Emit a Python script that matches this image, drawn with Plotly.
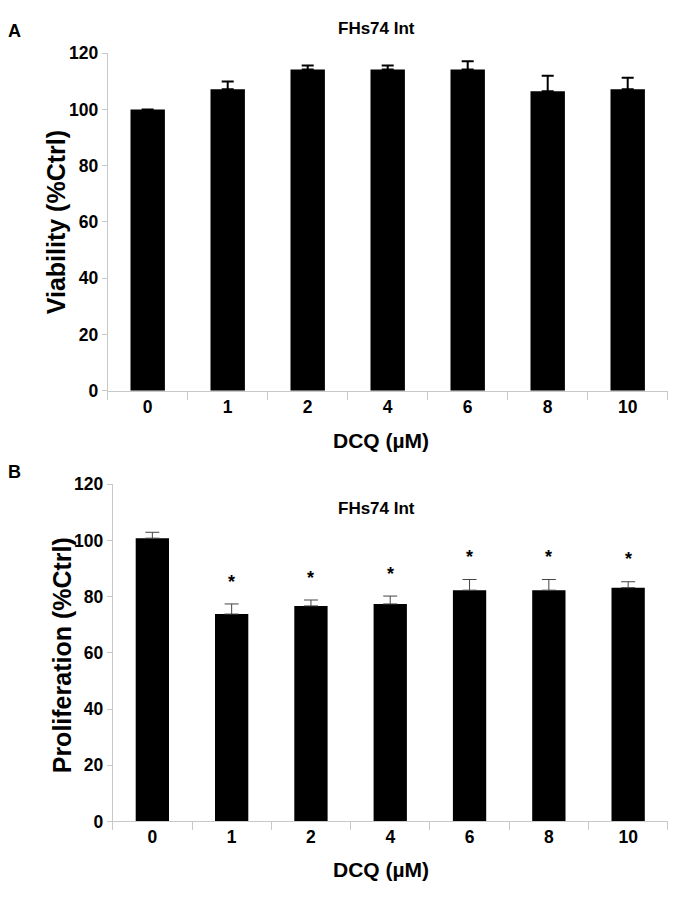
import plotly.graph_objects as go

# ---- data ----
doses = ["0", "1", "2", "4", "6", "8", "10"]
viability = [100.0, 107.2, 114.2, 114.2, 114.2, 106.5, 107.2]
viability_err = [0.0, 2.7, 1.4, 1.4, 2.9, 5.5, 4.1]
proliferation = [100.8, 73.8, 76.7, 77.4, 82.3, 82.3, 83.2]
proliferation_err = [2.1, 3.6, 2.1, 2.8, 3.8, 3.8, 2.1]
significant = [False, True, True, True, True, True, True]
y_ticks = [0, 20, 40, 60, 80, 100, 120]
panel_title = "FHs74 Int"
x_title = "DCQ (µM)"

# page has an 8px body margin; figure fills the rest of the 685x902 window
OFF = 8
W, H = 685 - 2 * OFF, 902 - 2 * OFF
FONT = "Liberation Sans, Arial, sans-serif"
AX = "#c8c8c8"


def px(x):
    return (x - OFF) / W


def py(y):
    return 1 - (y - OFF) / H


fig = go.Figure()
fig.add_trace(go.Bar(
    x=doses, y=viability, width=0.43, marker=dict(color="black", line=dict(width=0)),
    error_y=dict(type="data", symmetric=False, array=viability_err,
                 arrayminus=[0] * len(doses), color="black", thickness=2, width=6),
    xaxis="x", yaxis="y", showlegend=False))
fig.add_trace(go.Bar(
    x=doses, y=proliferation, width=0.42, marker=dict(color="black", line=dict(width=0)),
    error_y=dict(type="data", symmetric=False, array=proliferation_err,
                 arrayminus=[0] * len(doses), color="#444444", thickness=1, width=7),
    xaxis="x2", yaxis="y2", showlegend=False))

xcommon = dict(type="category", categoryorder="array", categoryarray=doses,
               range=[-0.5, len(doses) - 0.5],
               tickson="boundaries", ticks="outside", ticklen=8,
               tickcolor=AX, tickwidth=1, showline=True, linecolor=AX, linewidth=1,
               showgrid=False, zeroline=False,
               tickfont=dict(family=FONT, size=17.5, color="black", weight="bold"))
ycommon = dict(range=[0, 120], tickvals=y_ticks, ticks="outside", ticklen=5,
               tickcolor=AX, tickwidth=1, showline=True, linecolor=AX, linewidth=1,
               showgrid=False, zeroline=False,
               tickfont=dict(family=FONT, size=17.5, color="black", weight="bold"))

fig.update_layout(
    width=W, height=H, margin=dict(l=0, r=0, t=0, b=0),
    paper_bgcolor="white", plot_bgcolor="white",
    xaxis=dict(domain=[px(107.7), px(667.7)], anchor="y", **xcommon),
    yaxis=dict(domain=[py(389.3), py(44)], anchor="x", **ycommon),
    xaxis2=dict(domain=[px(112.7), px(667.8)], anchor="y2", **xcommon),
    yaxis2=dict(domain=[py(830), py(485)], anchor="x2", **ycommon),
)

ann = []
bold = dict(family=FONT, color="black", weight="bold")
# panel letters
ann.append(dict(text="A", x=px(14), y=py(21.5), font=dict(size=18, **bold)))
ann.append(dict(text="B", x=px(14), y=py(472.5), font=dict(size=18, **bold)))
# titles
ann.append(dict(text=panel_title, x=px(376), y=py(18.5), font=dict(size=17, **bold)))
ann.append(dict(text=panel_title, x=px(376), y=py(510), font=dict(size=17, **bold)))
# x titles
ann.append(dict(text=x_title, x=px(381), y=py(440), font=dict(size=21, **bold)))
ann.append(dict(text=x_title, x=px(381), y=py(879), font=dict(size=21, **bold)))
# y titles
ann.append(dict(text="Viability (%Ctrl)", x=px(56), y=py(217), textangle=-90,
                font=dict(size=25, **bold)))
ann.append(dict(text="Proliferation (%Ctrl)", x=px(62), y=py(660), textangle=-90,
                font=dict(size=25, **bold)))
for a in ann:
    a.update(xref="paper", yref="paper", showarrow=False, xanchor="center", yanchor="middle")

# significance stars (category index positions)
for i, (v, e, s) in enumerate(zip(proliferation, proliferation_err, significant)):
    if s:
        ann.append(dict(text="*", x=i, y=v + e + 9, xref="x2", yref="y2", showarrow=False,
                        xanchor="center", yanchor="middle", yshift=-3,
                        font=dict(size=18, **bold)))

fig.update_layout(annotations=ann)
fig.write_html("out.html")
